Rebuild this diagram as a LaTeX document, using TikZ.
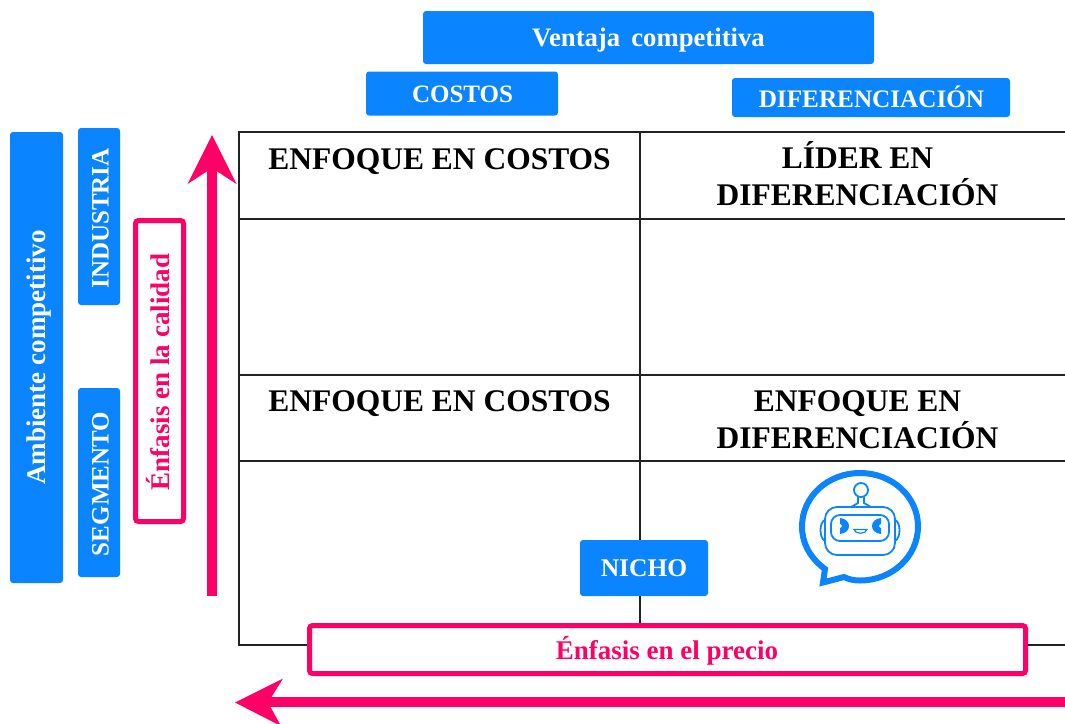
\documentclass[tikz,border=0pt]{standalone}
\usepackage{fontspec}
\setmainfont{Liberation Serif}
\definecolor{bluebox}{HTML}{0A84FF}
\definecolor{hotpink}{HTML}{FF0066}
\definecolor{gridc}{HTML}{222222}
\tikzset{
 x=1pt,y=-1pt,
 px/.style={inner sep=0pt,outer sep=0pt},
 bluefill/.style={px,fill=bluebox,rounded corners=3pt,text=white,font=\bfseries,align=center},
 pinkframe/.style={px,draw=hotpink,line width=5pt,fill=white,rounded corners=3pt,text=hotpink,font=\bfseries\fontsize{27}{30}\selectfont},
 celltext/.style={px,font=\bfseries\fontsize{31.5}{37}\selectfont,align=center,text=black},
 gridline/.style={draw=gridc,line width=2pt},
 robot/.style={draw=bluebox,fill=none},
}
\begin{document}
\begin{tikzpicture}
\useasboundingbox (0,0) rectangle (1065,723);
% grid
\draw[gridline] (1065,132) -- (238.5,132) -- (238.5,645) -- (1065,645);
\draw[gridline] (238.5,219) -- (1065,219);
\draw[gridline] (238.5,375) -- (1065,375);
\draw[gridline] (238.5,461) -- (1065,461);
\draw[gridline] (640,132) -- (640,645);
% cell text
\node[celltext] (c1) at (439.5,162) {ENFOQUE EN COSTOS};
\node[celltext,anchor=north] (c2) at (857.5,141.5) {LÍDER EN\\DIFERENCIACIÓN};
\node[celltext] (c3) at (439.5,404) {ENFOQUE EN COSTOS};
\node[celltext,anchor=north] (c4) at (857.5,391) {ENFOQUE EN\\DIFERENCIACIÓN};
% blue boxes
\node[bluefill,minimum width=451pt,minimum height=53pt] (vc) at (648.5,37.5) {};
\node[px,text=white,font=\bfseries\fontsize{26.7}{30}\selectfont] (vct) at (648.5,40.5) {Ventaja\, competitiva};
\node[bluefill,minimum width=192pt,minimum height=44pt] (costos) at (462,93.5) {};
\node[px,text=white,font=\bfseries\fontsize{25}{28}\selectfont] (costost) at (462.5,94.5) {COSTOS};
\node[bluefill,minimum width=278pt,minimum height=39pt] (dif) at (871,97.5) {};
\node[px,text=white,font=\bfseries\fontsize{25.2}{28}\selectfont] (dift) at (871.5,96.5) {DIFERENCIACIÓN};
\node[bluefill,minimum width=53pt,minimum height=451pt] (amb) at (36.5,357.5) {};
\node[px,text=white,font=\bfseries\fontsize{27}{30}\selectfont] (ambt) at (39.5,357.5) {\rotatebox{90}{Ambiente competitivo}};
\node[bluefill,minimum width=42pt,minimum height=177pt] (ind) at (99,216.5) {};
\node[px,text=white,font=\bfseries\fontsize{25}{28}\selectfont] (indt) at (100.5,218.5) {\rotatebox{90}{INDUSTRIA}};
\node[bluefill,minimum width=42pt,minimum height=189pt] (seg) at (99,482.5) {};
\node[px,text=white,font=\bfseries\fontsize{25}{28}\selectfont] (segt) at (100.5,484) {\rotatebox{90}{SEGMENTO}};
\node[bluefill,minimum width=128pt,minimum height=56pt,font=\bfseries\fontsize{25.5}{28}\selectfont] (nicho) at (644,568) {NICHO};
% pink frames
\node[pinkframe,minimum width=48pt,minimum height=301pt] (cal) at (159.5,371) {};
\node[px,text=hotpink,font=\bfseries\fontsize{27}{30}\selectfont] (calt) at (158.5,372) {\rotatebox{90}{Énfasis en la calidad}};
\node[pinkframe,minimum width=716pt,minimum height=48pt] (pre) at (667.5,649.5) {};
\node[px,text=hotpink,font=\bfseries\fontsize{27}{30}\selectfont] (pret) at (667,651) {Énfasis en el precio};
% arrows
\coordinate (upS) at (211.5,596);
\coordinate (upT) at (211.5,168);
\coordinate (leftS) at (1065,702);
\coordinate (leftT) at (268,702);
\draw[hotpink,line width=10pt] (upS) -- (upT);
\fill[hotpink] (212,135) -- (236.5,184) -- (212,168) -- (187.5,184) -- cycle;
\draw[hotpink,line width=10pt] (leftS) -- (leftT);
\fill[hotpink] (235,702.5) -- (283,678.5) -- (268,702.5) -- (281,726) -- cycle;
% robot bubble
\draw[robot,line width=6pt,line join=miter]
  (825,569) .. controls (810,558) and (802,543) .. (802,526.5)
  .. controls (802,496.5) and (828,473) .. (860,473)
  .. controls (892,473) and (918,496.5) .. (918,526.5)
  .. controls (918,556.5) and (892,580.5) .. (860,580.5)
  .. controls (854,580.5) and (849,579.5) .. (844,577)
  -- (823,582.5) -- cycle;
% robot head
\draw[robot,line width=1.8pt,rounded corners=12pt] (825,507) rectangle (895,555);
\draw[robot,line width=1.8pt,rounded corners=9pt] (831,515) rectangle (889,541);
\draw[robot,line width=1.8pt] (825,520) .. controls (819,522) and (819,538) .. (825,541);
\draw[robot,line width=1.8pt] (895,520) .. controls (901,522) and (901,538) .. (895,541);
\draw[robot,line width=1.8pt] (861,490) circle (7pt);
\draw[robot,line width=1.8pt] (858,497) -- (858,503) -- (851,507);
\draw[robot,line width=1.8pt] (864,497) -- (864,503) -- (871,507);
\fill[bluebox] (840,518) .. controls (852,519) and (852,533) .. (840,534) -- (840,528) .. controls (842.5,528) and (842.5,524) .. (840,524) -- cycle;
\fill[bluebox] (881,518) .. controls (869,519) and (869,533) .. (881,534) -- (881,528) .. controls (878.5,528) and (878.5,524) .. (881,524) -- cycle;
\draw[robot,line width=1.2pt] (854,529.5) -- (867,529.5) .. controls (866,534.5) and (855,534.5) .. (854,529.5) -- cycle;
\end{tikzpicture}
\end{document}
